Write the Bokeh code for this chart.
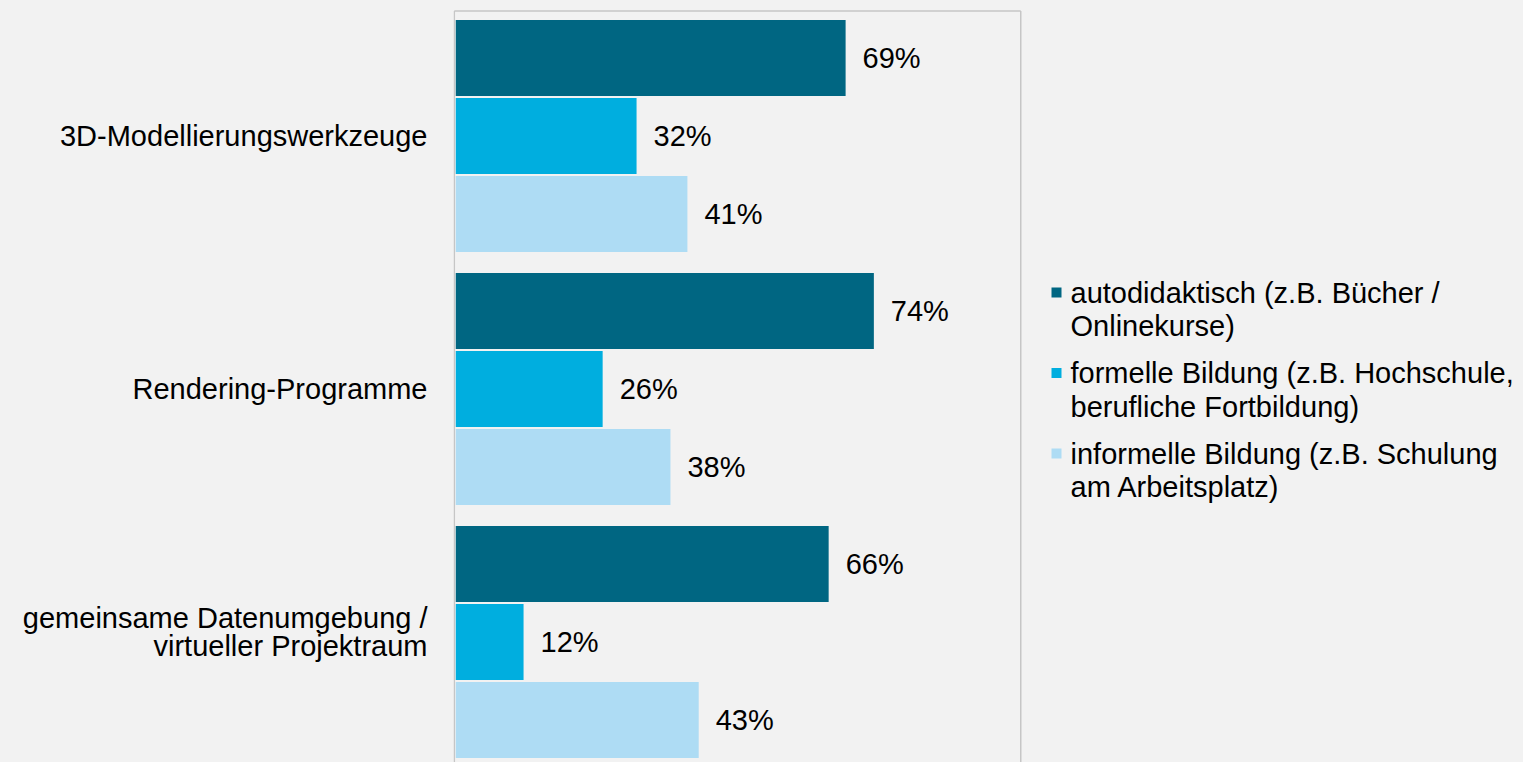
from bokeh.plotting import figure
from bokeh.models import Range1d, FixedTicker, ColumnDataSource
from bokeh.core.properties import value
from bokeh.embed import file_html
from bokeh.resources import INLINE

# ---- data ----
categories = ["3D-Modellierungswerkzeuge", "Rendering-Programme",
              "gemeinsame Datenumgebung /\nvirtueller Projektraum"]
series = ["autodidaktisch (z.B. Bücher /\nOnlinekurse)",
          "formelle Bildung (z.B. Hochschule,\nberufliche Fortbildung)",
          "informelle Bildung (z.B. Schulung\nam Arbeitsplatz)"]
autodidaktisch = [69, 74, 66]
formell = [32, 26, 12]
informell = [41, 38, 43]
colors = ["#006682", "#00aedf", "#aedcf4"]
values_by_series = [autodidaktisch, formell, informell]

# ---- layout constants (page pixel coordinates, body margin 0) ----
W, H = 1523, 762
LEFT = 453               # width of axis area
PX_X = 5.65              # px per percent
PX_Y = 253.0             # px per category
X0 = -0.4
Y_TOP = -135.5 / PX_Y
x_end = X0 + (W - LEFT) / PX_X
y_bottom = Y_TOP + H / PX_Y

def px_y(page_y):
    return Y_TOP + page_y / PX_Y

def px_x(page_x):
    return X0 + (page_x - LEFT) / PX_X

p = figure(width=W, height=H, output_backend="svg", toolbar_location=None,
           x_range=Range1d(X0, x_end), y_range=Range1d(y_bottom, Y_TOP),
           x_axis_location=None, min_border_left=LEFT, min_border_right=0,
           min_border_top=0, min_border_bottom=0)
p.background_fill_color = "#f2f2f2"
p.border_fill_color = "#f2f2f2"
p.outline_line_color = None
p.grid.visible = False

# frame lines (left, right, top)
top_y = px_y(10.5)
p.segment(x0=[px_x(453.8), 100, px_x(453.8)], y0=[top_y, top_y, top_y],
          x1=[px_x(453.8), 100, 100], y1=[y_bottom + 1, y_bottom + 1, top_y],
          line_color="#c6c6c6", line_width=1.5)

# bars
offset = 78.0 / PX_Y
bar_h = 76.0 / PX_Y
for i, (vals, col) in enumerate(zip(values_by_series, colors)):
    ys = [c + (i - 1) * offset for c in range(len(categories))]
    src = ColumnDataSource(dict(y=ys, v=vals,
                                lx=[v + 17.0 / PX_X for v in vals],
                                lab=[f"{v}%" for v in vals]))
    p.hbar(y="y", left=0, right="v", height=bar_h, source=src,
           fill_color=col, line_color=None)
    p.text(x="lx", y="y", text="lab", source=src, text_baseline="middle",
           text_align="left", text_font=value("Liberation Sans"),
           text_font_size="29px", text_color="#000000")

# category axis (two-line label sits a little above its group centre)
label_pos = [0, 1, 2 - 10.0 / PX_Y]
ax = p.yaxis[0]
ax.ticker = FixedTicker(ticks=label_pos)
ax.major_label_overrides = {t: c for t, c in zip(label_pos, categories)}
ax.major_label_text_font = "Liberation Sans"
ax.major_label_text_font_size = "29px"
ax.major_label_text_color = "#000000"
ax.major_label_text_line_height = 0.9
ax.major_tick_out = 0
ax.major_tick_in = 0
ax.minor_tick_out = 0
ax.minor_tick_in = 0
ax.axis_line_color = None
ax.major_label_standoff = 26

# legend (drawn manually)
sq_y = [px_y(292 + k * 80.5) for k in range(3)]
tx_y = [px_y(309 + k * 80.5) for k in range(3)]
p.rect(x=[px_x(1056)] * 3, y=sq_y, width=10, height=10, width_units="screen",
       height_units="screen", fill_color=colors, line_color=None)
p.text(x=[px_x(1070)] * 3, y=tx_y, text=series, text_baseline="middle",
       text_align="left", text_font=value("Liberation Sans"),
       text_font_size="29px", text_color="#000000", text_line_height=1.04)

html = file_html(p, INLINE)
html = html.replace("<head>",
                    "<head><style>html,body{margin:0;padding:0;background:#f2f2f2;overflow:hidden;}</style>", 1)
open("out.html", "w").write(html)
